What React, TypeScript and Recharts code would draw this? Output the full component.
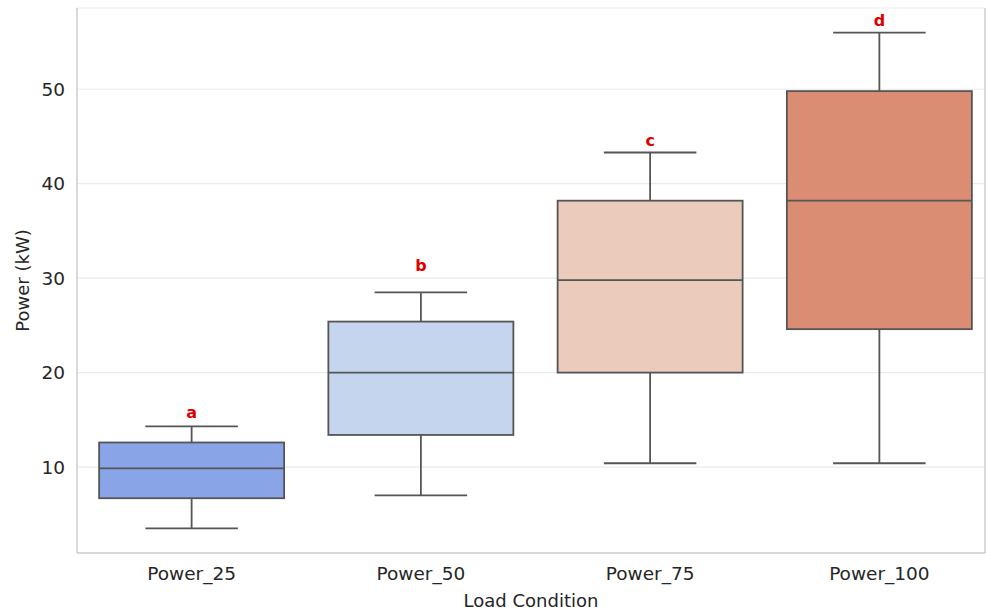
import { ComposedChart, Bar, XAxis, YAxis, CartesianGrid, Cell } from 'recharts'

const conditions = ['Power_25', 'Power_50', 'Power_75', 'Power_100']
const whiskerLow = [3.5, 7.0, 10.4, 10.4]
const q1 = [6.7, 13.4, 20.0, 24.6]
const median = [9.85, 20.0, 29.8, 38.2]
const q3 = [12.6, 25.4, 38.2, 49.8]
const whiskerHigh = [14.3, 28.5, 43.3, 56.0]
const letters = ['a', 'b', 'c', 'd']
const letterAt = [15.8, 31.3, 44.6, 57.3]
const yTicks = [10, 20, 30, 40, 50]

const boxColors = ['#8aa4e8', '#c6d5ee', '#ebcbbb', '#db8d73']
const lineColor = '#555555'
const frameColor = '#cccccc'
const textColor = '#262626'

const data = conditions.map((c, i) => ({
  condition: c,
  range: [whiskerLow[i], whiskerHigh[i]],
  q1: q1[i],
  median: median[i],
  q3: q3[i],
  letter: letters[i],
  letterAt: letterAt[i],
  color: boxColors[i],
}))

// draws a whole box plot inside the bar slot that spans the whiskers
function BoxShape(props: any) {
  const { x, y, width, height, payload } = props
  const [lo, hi] = payload.range
  const py = (v: number) => y + ((hi - v) / (hi - lo)) * height
  const cx = x + width / 2
  const capHalf = width / 4
  const top = py(payload.q3)
  const bottom = py(payload.q1)
  return (
    <g>
      <line x1={cx} x2={cx} y1={py(hi)} y2={top} stroke={lineColor} strokeWidth={1.8} />
      <line x1={cx} x2={cx} y1={bottom} y2={py(lo)} stroke={lineColor} strokeWidth={1.8} />
      <line x1={cx - capHalf} x2={cx + capHalf} y1={py(hi)} y2={py(hi)} stroke={lineColor} strokeWidth={1.8} />
      <line x1={cx - capHalf} x2={cx + capHalf} y1={py(lo)} y2={py(lo)} stroke={lineColor} strokeWidth={1.8} />
      <rect x={x} y={top} width={width} height={bottom - top} fill={payload.color} stroke={lineColor} strokeWidth={1.8} />
      <line x1={x} x2={x + width} y1={py(payload.median)} y2={py(payload.median)} stroke={lineColor} strokeWidth={1.8} />
      <text
        x={cx}
        y={py(payload.letterAt)}
        textAnchor="middle"
        dominantBaseline="central"
        fill="#e00000"
        fontWeight="bold"
        fontSize={16}
        fontFamily="DejaVu Sans"
      >
        {payload.letter}
      </text>
    </g>
  )
}

export default function App() {
  return (
    <div style={{ position: 'absolute', left: 0, top: 0, background: '#fff' }}>
      <ComposedChart
        width={986}
        height={612}
        data={data}
        margin={{ top: 8, right: 0, bottom: 0, left: 0 }}
        barCategoryGap="9.65%"
        style={{ fontFamily: 'DejaVu Sans' }}
      >
        <CartesianGrid horizontal vertical={false} stroke="#ebebeb" strokeWidth={1.2} />
        <XAxis
          dataKey="condition"
          height={59}
          padding={{ left: 0, right: -9 }}
          tickLine={false}
          tickSize={0}
          tickMargin={14}
          axisLine={{ stroke: frameColor, strokeWidth: 1.5 }}
          tick={{ fontSize: 18.5, fill: textColor }}
          label={{ value: 'Load Condition', position: 'insideBottom', offset: 5, fontSize: 18, fill: textColor }}
        />
        <XAxis xAxisId="top" orientation="top" dataKey="condition" height={0} tick={false} tickLine={false} axisLine={{ stroke: frameColor, strokeWidth: 1.5 }} />
        <YAxis
          type="number"
          domain={[0.9, 58.6]}
          ticks={yTicks}
          width={77}
          tickLine={false}
          tickSize={0}
          tickMargin={12}
          axisLine={{ stroke: frameColor, strokeWidth: 1.5 }}
          allowDataOverflow
          tick={{ fontSize: 18.5, fill: textColor }}
          label={{ value: 'Power (kW)', angle: -90, position: 'center', dx: -16, fontSize: 18, fill: textColor }}
        />
        <YAxis yAxisId="right" orientation="right" width={1} domain={[0, 1]} tick={false} tickLine={false} axisLine={{ stroke: frameColor, strokeWidth: 1.5 }} />
        <Bar dataKey="range" shape={<BoxShape />} isAnimationActive={false}>
          {data.map((d) => (
            <Cell key={d.condition} fill={d.color} />
          ))}
        </Bar>
      </ComposedChart>
    </div>
  )
}
